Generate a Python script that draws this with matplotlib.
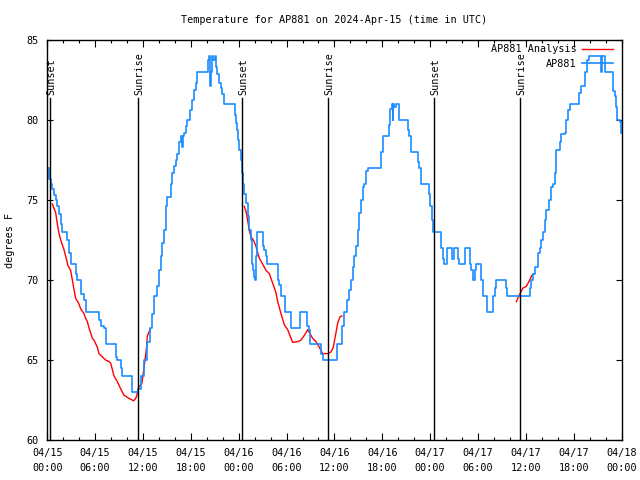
import matplotlib
matplotlib.use("Agg")
import matplotlib.pyplot as plt
import matplotlib.transforms as mtransforms

# hours since 2024-04-15 00:00 UTC
obs_hours = [0.0, 0.21, 0.42, 0.63, 0.84, 1.05, 1.26, 1.47, 1.68, 1.88, 2.51, 2.72, 2.93, 3.56, 3.77,
             4.18, 4.27, 4.60, 4.81, 6.48, 6.69, 7.11, 7.32, 8.57, 8.78, 9.20, 9.41, 10.66, 11.41,
             11.71, 12.13, 12.54, 12.88, 13.17, 13.38, 13.80, 14.01, 14.22, 14.42, 14.63, 14.84,
             15.05, 15.47, 15.68, 15.89, 16.10, 16.31, 16.51, 16.72, 16.85, 16.97, 17.14, 17.35,
             17.56, 17.85, 18.19, 18.40, 18.60, 18.81, 20.15, 20.28, 20.40, 20.57, 20.69, 20.82,
             20.99, 21.11, 21.32, 21.53, 21.74, 21.95, 22.16, 23.50, 23.62, 23.75, 23.91, 24.04,
             24.25, 24.40, 24.58, 24.70, 24.91, 25.12, 25.33, 25.54, 25.63, 25.84, 25.96, 26.04,
             26.17, 26.29, 27.00, 27.21, 27.42, 27.55, 28.89, 29.10, 29.30, 29.85, 30.56, 31.73,
             32.52, 32.77, 32.94, 34.32, 34.61, 36.32, 36.95, 37.24, 37.58, 37.87, 38.08, 38.29,
             38.50, 38.71, 38.92, 39.13, 39.33, 39.54, 39.75, 39.96, 40.17, 41.84, 42.05, 42.81,
             42.97, 43.22, 43.31, 43.40, 43.52, 43.73, 44.14, 45.19, 45.40, 45.61, 46.45, 46.66,
             46.86, 47.83, 48.00, 48.24, 48.36, 49.41, 49.62, 49.74, 50.16, 50.79, 50.96, 51.50,
             51.58, 52.34, 52.96, 53.17, 53.38, 53.59, 53.80, 54.42, 54.63, 55.18, 55.89, 56.10,
             56.31, 57.56, 57.69, 60.49, 60.70, 60.91, 61.20, 61.53, 61.74, 61.95, 62.16, 62.37,
             62.58, 62.87, 63.21, 63.41, 63.62, 63.83, 64.25, 64.46, 64.88, 65.08, 65.29, 65.50,
             66.63, 66.88, 67.38, 67.72, 67.88, 69.40, 69.50, 69.89, 70.93, 71.14, 71.27, 71.47,
             71.76, 71.97, 72.0]
obs_temp = [77.0, 76.3, 76.0, 75.7, 75.3, 75.0, 74.6, 74.1, 73.5, 73.0, 72.5, 71.7, 71.0, 70.4, 70.0,
            69.8, 69.1, 68.75, 68.0, 67.5, 67.1, 67.0, 66.0, 65.2, 65.0, 64.5, 64.0, 63.0, 63.2,
            64.0, 65.0, 66.1, 67.0, 67.9, 69.0, 69.6, 70.6, 71.5, 72.3, 73.1, 74.6,
            75.2, 76.0, 76.7, 77.1, 77.5, 77.9, 78.6, 79.0, 78.3, 79.0, 79.2, 79.6,
            80.0, 80.6, 81.25, 81.9, 82.3, 83.0, 83.75, 84.0, 82.1, 83.0, 84.0, 83.75,
            84.0, 83.3, 82.9, 82.3, 82.0, 81.6, 81.0, 80.3, 79.8, 79.4, 78.75, 78.1,
            77.5, 76.7, 76.0, 75.4, 74.8, 74.0, 73.1, 72.5, 71.0, 70.6, 70.2, 70.0,
            71.5, 73.0, 72.1, 71.9, 71.5, 71.0, 70.0, 69.7, 69.0, 68.0, 67.0, 68.0,
            67.1, 66.9, 66.0, 65.4, 65.0, 66.0, 67.1, 68.0, 68.75, 69.4, 70.0, 70.8,
            71.5, 72.1, 73.1, 74.2, 75.0, 75.8, 76.0, 76.8, 77.0, 78.0, 79.0, 79.7,
            80.7, 81.0, 80.0, 81.0, 80.8, 81.0, 80.0, 79.4, 79.0, 78.0, 77.4, 77.0,
            76.0, 75.4, 74.6, 73.75, 73.0, 72.0, 71.3, 71.0, 72.0, 71.3, 72.0, 71.3,
            71.0, 72.0, 71.0, 70.6, 70.0, 70.6, 71.0, 70.0, 69.0, 68.0, 69.0, 69.5,
            70.0, 69.5, 69.0, 69.5, 70.0, 70.4, 70.8, 71.7, 72.0, 72.5, 73.0, 73.75,
            74.4, 75.0, 75.8, 76.0, 76.7, 78.1, 78.6, 79.1, 79.2, 80.0, 80.6, 81.0,
            81.7, 82.1, 83.0, 83.75, 84.0, 83.0, 84.0, 83.0, 81.8, 81.5, 80.8, 80.0,
            79.9, 79.2, 79.2]

ana1_hours = [0.63, 1.05, 1.26, 1.47, 1.68, 2.09, 2.30, 2.59, 2.93, 3.14, 3.35, 3.56, 3.97, 4.18,
              4.60, 4.81, 5.02, 5.23, 5.44, 5.65, 5.85, 6.27, 6.48, 6.90, 7.32, 7.74, 7.95, 8.16,
              8.36, 8.78, 9.20, 9.62, 10.25, 10.82, 11.08, 11.24, 11.44, 11.62, 11.84, 12.04,
              12.25, 12.46, 12.54, 12.88]
ana1_temp = [74.75, 74.2, 73.5, 72.9, 72.5, 71.9, 71.5, 70.9, 70.6, 70.0, 69.4, 68.85, 68.5, 68.2,
             67.9, 67.6, 67.4, 67.0, 66.7, 66.35, 66.25, 65.8, 65.4, 65.2, 65.0, 64.9, 64.8, 64.4,
             64.0, 63.65, 63.2, 62.8, 62.6, 62.45, 62.6, 62.8, 63.3, 63.4, 63.5, 64.2,
             65.0, 65.8, 66.5, 66.9]
ana2_hours = [24.70, 24.91, 25.12, 25.33, 25.54, 25.84, 26.17, 26.38, 26.59, 27.00, 27.42, 27.84,
              28.26, 28.68, 28.89, 29.30, 29.72, 30.14, 30.56, 30.77, 31.40, 31.82, 32.24, 32.66,
              32.94, 33.28, 33.69, 34.11, 34.53, 35.15, 35.57, 35.86, 36.12, 36.41, 36.70, 36.95]
ana2_temp = [74.6, 74.3, 73.75, 73.1, 72.7, 72.5, 72.1, 71.7, 71.35, 71.0, 70.6, 70.4,
             69.8, 69.2, 68.65, 67.9, 67.2, 66.9, 66.35, 66.1, 66.15, 66.25, 66.55, 66.9,
             66.65, 66.35, 66.15, 65.8, 65.4, 65.4, 65.5, 65.8, 66.5, 67.3, 67.7, 67.75]
ana3_hours = [58.81, 59.23, 59.65, 60.07, 60.49, 60.78, 61.03]
ana3_temp = [68.65, 69.1, 69.5, 69.6, 70.0, 70.3, 70.4]

sun_hours = [0.30, 11.34, 24.38, 35.23, 48.45, 59.31]
sun_labels = ["Sunset", "Sunrise", "Sunset", "Sunrise", "Sunset", "Sunrise"]

tick_hours = [0, 6, 12, 18, 24, 30, 36, 42, 48, 54, 60, 66, 72]
tick_labels = ["04/15\n00:00", "04/15\n06:00", "04/15\n12:00", "04/15\n18:00",
               "04/16\n00:00", "04/16\n06:00", "04/16\n12:00", "04/16\n18:00",
               "04/17\n00:00", "04/17\n06:00", "04/17\n12:00", "04/17\n18:00",
               "04/18\n00:00"]

plt.rcParams['font.family'] = ['DejaVu Sans Mono', 'DejaVu Sans']
fs = 7.3

fig = plt.figure(figsize=(6.4, 4.8), dpi=100)
ax = fig.add_axes([47.3 / 640, 40 / 480, 574.2 / 640, 400 / 480])

ana_color = '#ff0000'
obs_color = '#1a8cff'
ax.plot(ana1_hours, ana1_temp, color=ana_color, lw=1.0, label='AP881 Analysis')
ax.plot(ana2_hours, ana2_temp, color=ana_color, lw=1.0)
ax.plot(ana3_hours, ana3_temp, color=ana_color, lw=1.0)
ax.plot(obs_hours, obs_temp, color=obs_color, lw=1.2, drawstyle='steps-post', label='AP881')

trans = mtransforms.blended_transform_factory(ax.transData, ax.transAxes)
for h, lab in zip(sun_hours, sun_labels):
    ax.axvline(h, ymin=0, ymax=0.855, color='black', lw=1.0)
    ax.text(h + 0.15, 0.862, lab, transform=trans, rotation=90, ha='center', va='bottom',
            fontsize=fs)

ax.set_xlim(0, 72)
ax.set_ylim(60, 85)
ax.set_xticks(tick_hours)
ax.set_xticklabels(tick_labels, linespacing=1.65)
ax.set_xticks(range(0, 73, 2), minor=True)
ax.set_yticks([60, 65, 70, 75, 80, 85])
ax.tick_params(axis='both', which='both', direction='in', top=True, right=True,
               labelsize=fs, width=0.8, colors='black')
ax.tick_params(axis='x', which='major', length=5, pad=5.5)
ax.tick_params(axis='x', which='minor', length=2.5)
ax.tick_params(axis='y', which='major', length=4, pad=6)
for s in ax.spines.values():
    s.set_linewidth(1.0)

ax.set_ylabel('degrees F', fontsize=fs)
ax.yaxis.set_label_coords(-0.057, 0.5)
fig.text(334.5 / 640, 1 - 20 / 480, 'Temperature for AP881 on 2024-Apr-15 (time in UTC)',
         ha='center', va='center', fontsize=fs)

ax.legend(loc='upper right', frameon=False, markerfirst=False, fontsize=fs,
          handlelength=3.0, handletextpad=0.6, labelspacing=0.45,
          borderaxespad=0.1, borderpad=0.3, bbox_to_anchor=(0.992, 1.0))

fig.savefig('out.png', dpi=100)
